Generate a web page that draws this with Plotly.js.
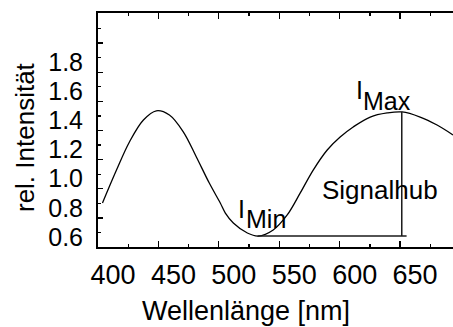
<!DOCTYPE html>
<html>
<head>
<meta charset="utf-8">
<script src="https://cdn.plot.ly/plotly-3.0.1.min.js"></script>
<style>
  html, body { margin: 0; padding: 0; background: #fff; overflow: hidden; }
  #chart { width: 453px; height: 327px; }
</style>
</head>
<body>
<div id="chart"></div>
<script>
// Spectrum: relative intensity over wavelength
const wavelength = [403.7, 415.3, 426.0, 437.6, 448.3, 459.1, 470.7, 481.4, 492.1, 501.2,
                    505.4, 512.0, 523.6, 532.6, 545.0, 556.6, 567.4, 578.1, 589.7, 600.4,
                    611.2, 625.3, 639.3, 651.7, 666.6, 680.6, 693.8];
const intensity  = [0.902, 1.128, 1.321, 1.472, 1.535, 1.506, 1.389, 1.218, 1.039, 0.902,
                    0.833, 0.765, 0.696, 0.675, 0.717, 0.820, 0.971, 1.128, 1.266, 1.355,
                    1.424, 1.492, 1.520, 1.527, 1.492, 1.437, 1.369];

// Minimum and maximum used for the signal swing
const lambdaMin = 532.0;
const iMin = 0.675;
const lambdaMax = 651.4;
const iMax = 1.527;

// Axis ticks
const xTickVals = [400, 450, 500, 550, 600, 650];
const xTickText = ['400', '450', '500', '550', '600', '650'];
const xMinorVals = [425, 475, 525, 575, 625, 675];
const yTickVals = [0.6, 0.8, 1.0, 1.2, 1.4, 1.6, 1.8, 2.0];
const yTickText = ['0.6', '0.8', '1.0', '1.2', '1.4', '1.6', '1.8', ''];
const yMinorVals = [0.7, 0.9, 1.1, 1.3, 1.5, 1.7, 1.9, 2.1];

const FONT = 'Liberation Sans, Arial, sans-serif';

const traces = [
  {
    x: wavelength, y: intensity, type: 'scatter', mode: 'lines',
    line: { color: '#000', width: 1.3, shape: 'spline', smoothing: 1 },
    hoverinfo: 'skip'
  },
  {
    // baseline at the minimum, out to the maximum
    x: [lambdaMin, lambdaMax + 4], y: [iMin, iMin], type: 'scatter', mode: 'lines',
    line: { color: '#1a1a1a', width: 1.5 }, hoverinfo: 'skip'
  },
  {
    // vertical swing from minimum up to maximum
    x: [lambdaMax, lambdaMax], y: [iMin, iMax], type: 'scatter', mode: 'lines',
    line: { color: '#1a1a1a', width: 1.5 }, hoverinfo: 'skip'
  }
];

const txt = (s) => ({ family: FONT, size: s, color: '#000' });

const layout = {
  width: 453, height: 327,
  margin: { l: 98, r: 0, t: 13, b: 80, pad: 0 },
  paper_bgcolor: '#fff', plot_bgcolor: '#fff',
  showlegend: false,
  font: txt(25),
  xaxis: {
    range: [400, 693.8],
    tickmode: 'array', tickvals: xTickVals, ticktext: xTickText,
    ticks: 'inside', ticklen: 6, tickwidth: 1.3, tickcolor: '#000',
    minor: { tickvals: xMinorVals, ticks: 'inside', ticklen: 3, tickwidth: 1.3, tickcolor: '#000' },
    showline: true, linecolor: '#000', linewidth: 2, mirror: 'ticks',
    showgrid: false, zeroline: false,
    tickfont: txt(27),
    ticklabelshift: 15, ticklabelstandoff: 3
  },
  yaxis: {
    range: [0.6, 2.206],
    tickmode: 'array', tickvals: yTickVals, ticktext: yTickText,
    ticks: 'inside', ticklen: 5, tickwidth: 1.3, tickcolor: '#000',
    minor: { tickvals: yMinorVals, ticks: 'inside', ticklen: 3, tickwidth: 1.3, tickcolor: '#000' },
    showline: true, linecolor: '#000', linewidth: 2, mirror: false,
    showgrid: false, zeroline: false,
    tickfont: txt(25),
    ticklabelshift: -10, ticklabelstandoff: 8
  },
  annotations: [
    { xref: 'paper', yref: 'paper', x: 0.418, y: -0.275, text: 'Wellenlänge [nm]',
      showarrow: false, xanchor: 'center', yanchor: 'middle', font: txt(27) },
    { xref: 'paper', yref: 'paper', x: -0.2056, y: 0.47, text: 'rel. Intensität',
      showarrow: false, textangle: -90, xanchor: 'center', yanchor: 'middle', font: txt(26) },
    { x: 633.5, y: 0.991, text: 'Signalhub', showarrow: false,
      xanchor: 'center', yanchor: 'middle', font: txt(26) },
    { x: 616.4, y: 1.678, text: 'I', showarrow: false, xanchor: 'center', yanchor: 'middle', font: txt(25) },
    { x: 638.8, y: 1.599, text: 'Max', showarrow: false, xanchor: 'center', yanchor: 'middle', font: txt(25) },
    { x: 519.0, y: 0.864, text: 'I', showarrow: false, xanchor: 'center', yanchor: 'middle', font: txt(25) },
    { x: 539.3, y: 0.792, text: 'Min', showarrow: false, xanchor: 'center', yanchor: 'middle', font: txt(25) }
  ]
};

Plotly.newPlot('chart', traces, layout, { staticPlot: true, displayModeBar: false });
</script>
</body>
</html>
